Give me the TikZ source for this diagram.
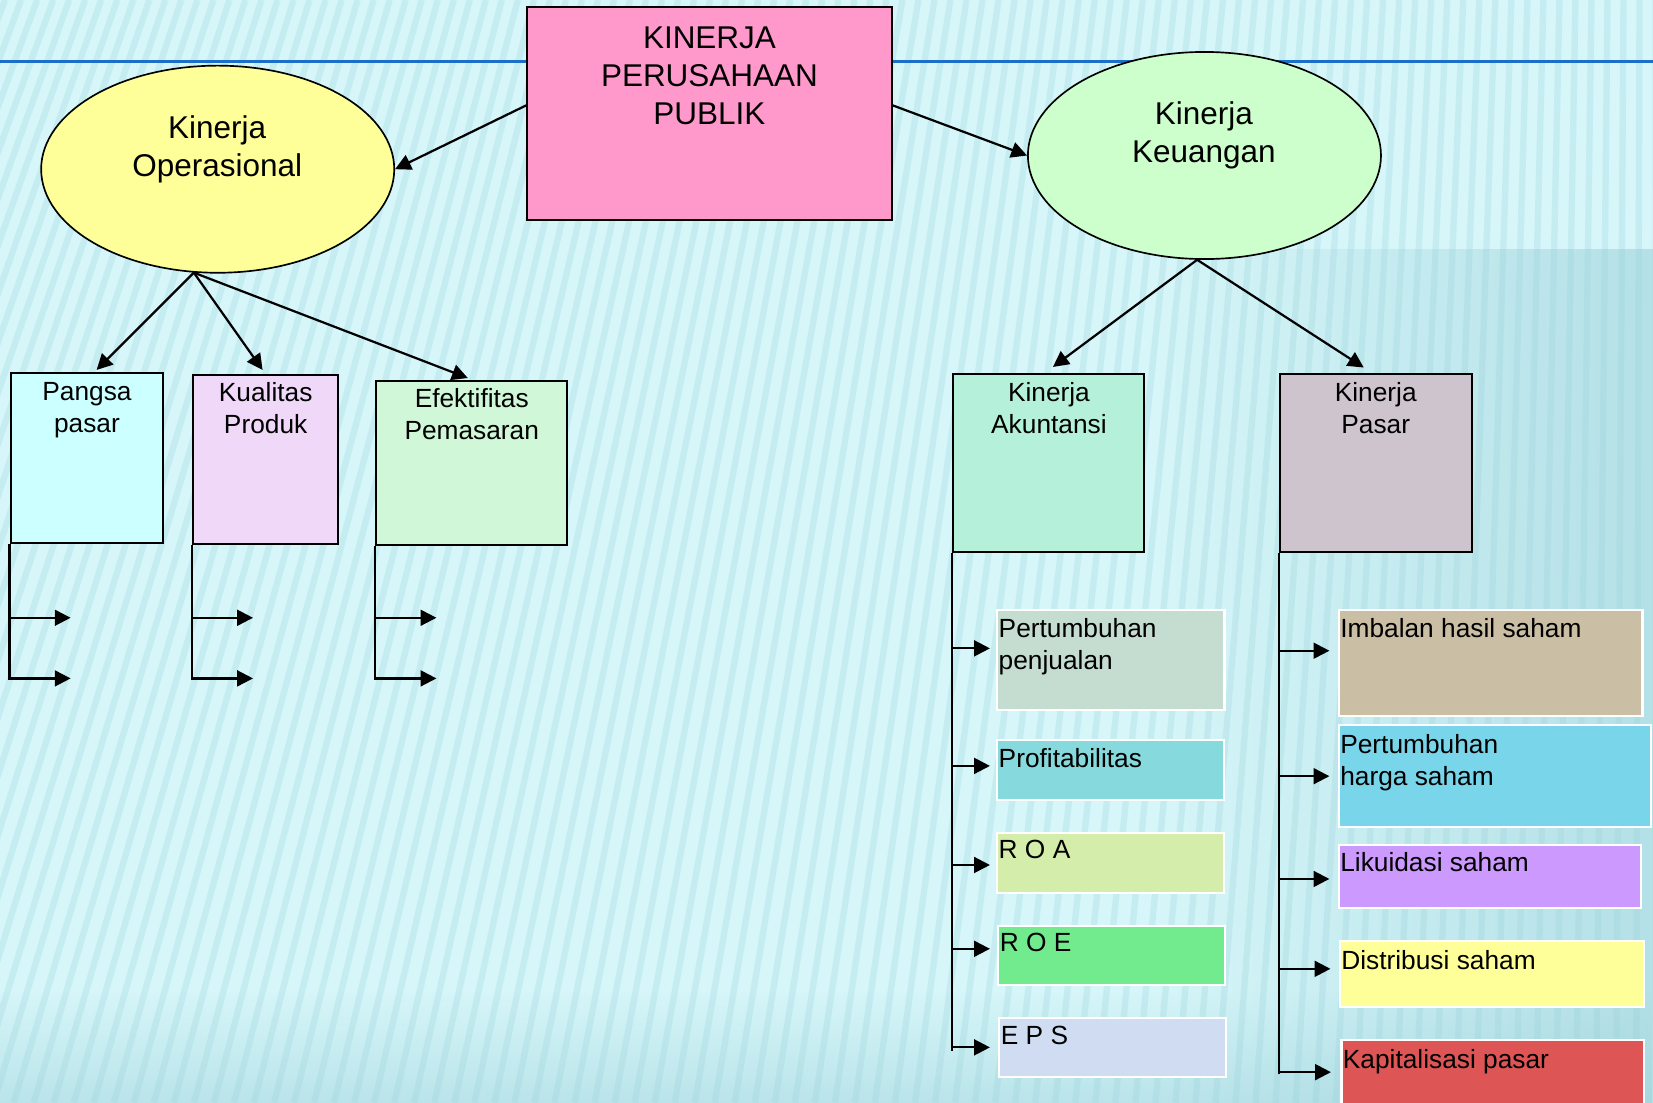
\documentclass[tikz,border=0pt]{standalone}
\usepackage{fontspec}
\setmainfont{Liberation Sans}
\usetikzlibrary{arrows.meta,shapes.geometric,fit,fadings}

\definecolor{bgc}{HTML}{D6F6F9}
\definecolor{bgstripe}{HTML}{A6DCE2}
\definecolor{bgdark}{HTML}{98CFD8}
\definecolor{blueline}{HTML}{1C6FC8}
\definecolor{cpink}{HTML}{FF99CC}
\definecolor{cyellow}{HTML}{FFFF99}
\definecolor{cgreen}{HTML}{CCFFCC}
\definecolor{cpangsa}{HTML}{CCFFFF}
\definecolor{ckual}{HTML}{F0D8F8}
\definecolor{cefek}{HTML}{CFF7D8}
\definecolor{cakun}{HTML}{B5F0DA}
\definecolor{cpasar}{HTML}{CEC4CE}
\definecolor{cpenj}{HTML}{C4DDD0}
\definecolor{cprof}{HTML}{86D9DC}
\definecolor{croa}{HTML}{D5EDAA}
\definecolor{croe}{HTML}{72EB8E}
\definecolor{ceps}{HTML}{D0DCF2}
\definecolor{cimb}{HTML}{CABEA4}
\definecolor{charga}{HTML}{79D5E9}
\definecolor{clik}{HTML}{CC99FF}
\definecolor{cdist}{HTML}{FFFF99}
\definecolor{ckap}{HTML}{DD5555}

\begin{document}
\begin{tikzpicture}[x=0.02cm,y=-0.02cm,
  big/.style={font=\fontsize{17}{20.5}\selectfont, align=center, inner sep=0pt, anchor=north},
  small/.style={font=\fontsize{14.2}{17.1}\selectfont, align=center, inner sep=0pt, anchor=north},
  lsmall/.style={font=\fontsize{14.2}{17.1}\selectfont, align=left, inner sep=0pt, anchor=north west},
  box/.style={draw=black, line width=1.1pt, inner sep=0pt},
  subbox/.style={draw=white, line width=1.1pt, inner sep=0pt},
  oval/.style={ellipse, draw=black, line width=0.9pt, inner sep=0pt, minimum width=6.7cm, minimum height=3.93cm},
  conn/.style={line width=1.2pt, -{Triangle[length=0.3cm,width=0.3cm]}},
  trunk/.style={line width=1.2pt}
]
\useasboundingbox (0,0) rectangle (1568,1046);
\fill[bgc] (0,0) rectangle (1568,1046);
\begin{scope}
  \clip (0,0) rectangle (1568,1046);
  \foreach \i in {-500,-481,...,1700}
    \draw[bgstripe, opacity=0.35, line width=0.12cm] (\i,1046) -- ({\i+0.2*(1568-\i)},0);
  \fill[bgdark, opacity=0.55, path fading=west] (1100,235) rectangle (1568,1046);
  \fill[bgdark, opacity=0.45, path fading=north] (0,940) rectangle (1568,1046);
\end{scope}
\draw[blueline, line width=0.055cm] (0,58) -- (1568,58);

% top box and ovals
\node[box, fill=cpink, fit={(500,7)(846,209)}] (pub) {};
\node[big] (tpub) at (673,25) {KINERJA\\PERUSAHAAN\\PUBLIK};
\node[oval, fill=cyellow] (op) at (206.5,160.5) {};
\node[big] (top) at (206,109) {Kinerja\\Operasional};
\node[oval, fill=cgreen] (keu) at (1142.5,147.5) {};
\node[big] (tkeu) at (1142,96) {Kinerja\\Keuangan};

\draw[conn] ([yshift=0.16cm]pub.west) -- (op.east);
\draw[conn] ([yshift=0.16cm]pub.east) -- (keu.west);

% operational boxes
\node[box, fill=cpangsa, fit={(10,354)(155,515)}] (pp) {};
\node[small] (tpp) at (82.5,362.5) {Pangsa\\pasar};
\node[box, fill=ckual, fit={(183,356)(321,516)}] (kp) {};
\node[small] (tkp) at (252,362.5) {Kualitas\\Produk};
\node[box, fill=cefek, fit={(357,361)(538,517)}] (ep) {};
\node[small] (tep) at (447.5,368.5) {Efektifitas\\Pemasaran};

\draw[conn, shorten >=0.06cm] (op.257) -- ([xshift=0.14cm]pp.north);
\draw[conn, shorten >=0.1cm] (op.257) -- (kp.north);
\draw[conn, shorten >=0.08cm] (op.257) -- (ep.north);

% free arrow ends
\coordinate (pa1) at (67,586);
\coordinate (pa2) at (67,643.5);
\coordinate (ka1) at (240,586);
\coordinate (ka2) at (240,643.5);
\coordinate (ea1) at (414,586);
\coordinate (ea2) at (414,643.5);

\draw[trunk] (pp.south west) -- ([yshift=-0.03cm]pp.south west |- pa2);
\draw[conn] (pp.south west |- pa1) -- (pa1);
\draw[conn] (pp.south west |- pa2) -- (pa2);
\draw[trunk] (kp.south west) -- ([yshift=-0.03cm]kp.south west |- ka2);
\draw[conn] (kp.south west |- ka1) -- (ka1);
\draw[conn] (kp.south west |- ka2) -- (ka2);
\draw[trunk] (ep.south west) -- ([yshift=-0.03cm]ep.south west |- ea2);
\draw[conn] (ep.south west |- ea1) -- (ea1);
\draw[conn] (ep.south west |- ea2) -- (ea2);

% financial boxes
\node[box, fill=cakun, fit={(904,355)(1085.5,524)}] (ak) {};
\node[small] (tak) at (995,362.5) {Kinerja\\Akuntansi};
\node[box, fill=cpasar, fit={(1214,355)(1396,524)}] (ps) {};
\node[small] (tps) at (1305,362.5) {Kinerja\\Pasar};

\draw[conn, shorten >=0.2cm] (keu.266) -- ([xshift=-0.08cm]ak.north);
\draw[conn, shorten >=0.2cm] (keu.266) -- ([xshift=-0.06cm]ps.north);

% accounting sub boxes
\node[subbox, fill=cpenj, fit={(946,578.5)(1161.5,673.5)}] (pj) {};
\node[lsmall] (tpj) at (947,586.5) {Pertumbuhan\\penjualan};
\node[subbox, fill=cprof, fit={(946,702)(1161,759)}] (pr) {};
\node[lsmall] (tpr) at (947,709.5) {Profitabilitas};
\node[subbox, fill=croa, fit={(946,790)(1161,847)}] (roa) {};
\node[lsmall] (troa) at (947,796.5) {R O A};
\node[subbox, fill=croe, fit={(947,878)(1162,934)}] (roe) {};
\node[lsmall] (troe) at (948,884.5) {R O E};
\node[subbox, fill=ceps, fit={(948,965.5)(1163,1021.5)}] (eps) {};
\node[lsmall] (teps) at (949,973) {E P S};

\draw[trunk] (ak.south west) -- ([yshift=-0.07cm]ak.south west |- eps.west);
\draw[conn, shorten >=0.12cm] ([yshift=0.22cm]ak.south west |- pj.west) -- ([yshift=0.22cm]pj.west);
\draw[conn, shorten >=0.12cm] ([yshift=0.08cm]ak.south west |- pr.west) -- ([yshift=0.08cm]pr.west);
\draw[conn, shorten >=0.12cm] ([yshift=-0.04cm]ak.south west |- roa.west) -- ([yshift=-0.04cm]roa.west);
\draw[conn, shorten >=0.14cm] ([yshift=0.12cm]ak.south west |- roe.west) -- ([yshift=0.12cm]roe.west);
\draw[conn, shorten >=0.16cm] (ak.south west |- eps.west) -- (eps.west);

% market sub boxes
\node[subbox, fill=cimb, fit={(1270,578.5)(1558,679)}] (im) {};
\node[lsmall] (tim) at (1271,586.5) {Imbalan hasil saham};
\node[subbox, fill=charga, fit={(1270,688)(1566,784.5)}] (hg) {};
\node[lsmall] (thg) at (1271,696.5) {Pertumbuhan\\harga saham};
\node[subbox, fill=clik, fit={(1270,801.5)(1557,861)}] (lk) {};
\node[lsmall] (tlk) at (1271,808.5) {Likuidasi saham};
\node[subbox, fill=cdist, fit={(1271,893)(1559,955)}] (ds) {};
\node[lsmall] (tds) at (1272,901.5) {Distribusi saham};
\node[subbox, fill=ckap, fit={(1272.5,986.5)(1559.5,1060)}] (kap) {};
\node[lsmall] (tkap) at (1273.5,995) {Kapitalisasi pasar};

\coordinate (kapin) at (1272.5,1017);
\draw[trunk] (ps.south west) -- ([yshift=-0.04cm]ps.south west |- kapin);
\draw[conn, shorten >=0.16cm] ([yshift=0.23cm]ps.south west |- im.west) -- ([yshift=0.23cm]im.west);
\draw[conn, shorten >=0.16cm] (ps.south west |- hg.west) -- (hg.west);
\draw[conn, shorten >=0.16cm] ([yshift=-0.05cm]ps.south west |- lk.west) -- ([yshift=-0.05cm]lk.west);
\draw[conn, shorten >=0.16cm] ([yshift=0.1cm]ps.south west |- ds.west) -- ([yshift=0.1cm]ds.west);
\draw[conn, shorten >=0.2cm] (ps.south west |- kapin) -- (kapin);
\end{tikzpicture}
\end{document}
